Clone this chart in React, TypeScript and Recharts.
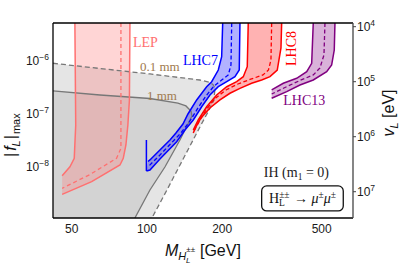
import React from "react";
import { ComposedChart, Area, Line, XAxis, YAxis, ReferenceDot, ReferenceLine } from "recharts";

const SANS = '"Liberation Sans", Arial, Helvetica, sans-serif';
const SERIF = '"Liberation Serif", "Times New Roman", Times, serif';

// ---- axes ----
const M_DOMAIN: [number, number] = [42.1, 667];
const F_DOMAIN: [number, number] = [1.09e-9, 5.21e-6];
const V_DOMAIN: [number, number] = [8566, 3.006e7];
const M_TICKS = [50, 100, 200, 500];
const F_TICKS = [1e-8, 1e-7, 1e-6];
const V_TICKS = [1e4, 1e5, 1e6, 1e7];

// ---- decay-length regions [M (GeV), |f_L|max] ----
const line01mm = [
  [42.1, 9.06e-7], [64.9, 7.21e-7], [102.8, 5.69e-7], [162.9, 4.38e-7], [178.6, 3.93e-7],
  [183.6, 3.6e-7], [187.1, 3.1e-7], [185.4, 1.84e-7], [175.4, 1.09e-7], [162.9, 5.69e-8],
  [120.2, 3.68e-9], [104.7, 1.09e-9],
];
const line1mm = [
  [42.1, 2.72e-7], [64.9, 2.28e-7], [102.8, 1.96e-7], [133.0, 1.61e-7], [143.2, 1.42e-7],
  [150.0, 1.14e-7], [151.4, 9.17e-8], [135.5, 3.23e-8], [118.0, 1.0e-8], [102.8, 3.68e-9],
  [89.5, 1.09e-9],
];

// ---- LEP ----
const lepLeft = [[51.5, 5.21e-6], [51.9, 6.2e-8], [51.2, 1.46e-8], [49.2, 1.01e-8], [45.8, 6.85e-9]];
const lepLower = [
  [45.8, 3.05e-9], [60.1, 5.28e-9], [78.0, 1.09e-8], [80.4, 1.46e-8], [82.4, 2.6e-8],
  [83.9, 6.2e-8], [85.1, 1.84e-7], [85.5, 5.21e-6],
];
const lepDash = [[78.7, 5.21e-6], [78.7, 6.2e-8], [78.7, 2.25e-8], [75.6, 1.46e-8], [59.2, 7.21e-9], [45.8, 3.96e-9]];

// ---- LHC7 ----
const lhc7Upper = [
  [200.9, 5.21e-6], [199.0, 1.21e-6], [192.9, 6.76e-7], [181.5, 4.07e-7], [173.3, 3.27e-7],
  [158.1, 1.84e-7], [145.9, 1.0e-7], [139.3, 6.48e-8], [130.6, 4.38e-8], [123.6, 3.23e-8],
  [112.7, 2.09e-8], [102.8, 1.36e-8], [100.9, 1.27e-8],
];
const lhc7Lower = [
  [235.5, 5.21e-6], [234.0, 6.76e-7], [224.9, 5.06e-7], [208.5, 4.07e-7], [192.9, 3.27e-7],
  [178.6, 2.28e-7], [165.5, 1.37e-7], [153.2, 7.71e-8], [141.9, 4.99e-8], [131.5, 3.0e-8],
  [112.7, 1.42e-8], [102.8, 8.78e-9], [99.5, 8.41e-9],
];
const lhc7Tip = [[99.5, 3.23e-8], [99.5, 8.41e-9]];
const lhc7Dash = [
  [218.3, 5.21e-6], [216.8, 8.41e-7], [211.5, 5.45e-7], [199.0, 4.38e-7], [185.4, 3.37e-7],
  [172.2, 2.19e-7], [160.0, 1.3e-7], [148.6, 7.38e-8], [136.8, 4.38e-8], [123.6, 2.66e-8],
  [112.7, 1.68e-8], [101.9, 1.05e-8],
];

// ---- LHC8 ----
const lhc8Upper = [
  [254.2, 5.21e-6], [251.9, 7.81e-7], [242.8, 5.06e-7], [228.5, 4.07e-7], [208.5, 3.27e-7],
  [190.0, 2.28e-7], [173.3, 1.37e-7], [160.4, 7.71e-8], [153.2, 4.99e-8],
];
const lhc8Lower = [
  [345.8, 5.21e-6], [343.6, 1.76e-6], [332.0, 6.76e-7], [310.5, 5.06e-7], [287.6, 4.38e-7],
  [262.3, 3.8e-7], [235.5, 3.05e-7], [214.8, 2.46e-7], [195.9, 1.84e-7], [178.6, 1.3e-7],
  [164.4, 8.41e-8], [157.0, 5.69e-8], [153.2, 4.38e-8],
];
const lhc8Dash = [
  [315.4, 5.21e-6], [313.3, 1.04e-6], [306.2, 6.76e-7], [291.1, 5.45e-7], [258.2, 4.48e-7],
  [231.2, 3.68e-7], [207.0, 2.84e-7], [187.1, 1.96e-7], [172.2, 1.19e-7], [161.4, 7.06e-8],
  [154.2, 4.78e-8],
];

// ---- LHC13 ----
const lhc13Upper = [
  [462.6, 5.21e-6], [455.9, 9.06e-7], [435.5, 6.28e-7], [397.0, 4.72e-7], [351.0, 3.8e-7], [315.4, 2.84e-7],
];
const lhc13Lower = [
  [564.9, 5.21e-6], [561.3, 1.61e-6], [548.0, 8.41e-7], [523.4, 6.28e-7], [462.6, 4.38e-7],
  [409.3, 3.52e-7], [362.2, 2.64e-7], [315.4, 1.98e-7],
];
const lhc13Dash = [
  [515.2, 5.21e-6], [510.5, 1.3e-6], [492.0, 7.38e-7], [462.6, 5.45e-7], [409.3, 4.29e-7],
  [356.4, 3.16e-7], [315.4, 2.38e-7],
];

// ---- annotation anchors [M, f] ----
const POS_LEP = [87.9, 1.84e-6];
const POS_LHC7 = [139.3, 8.41e-7];
const POS_LHC8 = [394.5, 1.72e-6];
const POS_LHC13 = [351.0, 1.48e-7];
const POS_01MM = [93.8, 6.48e-7];
const POS_1MM = [100, 1.84e-7];
const POS_IH = [534.6, 6.48e-9];
const POS_BOX = [418.8, 2.55e-9];

// ---- helpers ----
const toPts = (a: number[][]) => a.map(([m, f]) => ({ m, f }));
const band = (upper: number[][], lower: number[][]) => toPts([...upper, ...[...lower].reverse(), upper[0]]);
const region = (a: number[][]) =>
  toPts([[a[0][0], F_DOMAIN[0]], ...a, [a[a.length - 1][0], F_DOMAIN[0]]]);

const expStr = (v: number) => {
  const e = Math.round(Math.log10(v));
  return e < 0 ? "\u2212" + -e : String(e);
};

const MTick = (p: any) => (
  <text x={p.x} y={p.y} dy={8.6} textAnchor="middle" fontSize={12} fontFamily={SANS} fill="#1a1a1a">
    {p.payload.value}
  </text>
);
const FTick = (p: any) => (
  <text x={p.x} y={p.y} dy={4.5} textAnchor="end" fontSize={12} fontFamily={SANS} fill="#1a1a1a">
    10<tspan dy={-5} fontSize={8.5}>{expStr(p.payload.value)}</tspan>
  </text>
);
const VTick = (p: any) => (
  <text x={p.x} y={p.y} dy={4.5} textAnchor="start" fontSize={12} fontFamily={SANS} fill="#1a1a1a">
    10<tspan dy={-5} fontSize={8.5}>{expStr(p.payload.value)}</tspan>
  </text>
);

const MLabel = (p: any) => {
  const vb = p.viewBox;
  const x = vb.x + 112;
  const y = vb.y + 38;
  return (
    <text x={x} y={y} fontSize={16} fontFamily={SANS} fill="#111">
      <tspan fontStyle="italic">M</tspan>
      <tspan fontStyle="italic" fontSize={11} dy={4}>H</tspan>
      <tspan fontSize={8} dy={-8}>±±</tspan>
      <tspan fontStyle="italic" fontSize={8} dx={-9} dy={11}>L</tspan>
      <tspan dx={5} dy={-7}> [GeV]</tspan>
    </text>
  );
};
const FLabel = (p: any) => {
  const vb = p.viewBox;
  const x = vb.x + 16;
  const y = vb.y + 134;
  return (
    <text transform={`rotate(-90 ${x} ${y})`} x={x} y={y} fontSize={16} fontFamily={SANS} fill="#111">
      |<tspan fontStyle="italic" dx={2}>f</tspan>
      <tspan fontStyle="italic" fontSize={11} dy={4}>L</tspan>
      <tspan dy={-4} dx={1}>|</tspan>
      <tspan fontSize={11} dy={4} dx={1}>max</tspan>
    </text>
  );
};
const VLabel = (p: any) => {
  const vb = p.viewBox;
  const x = vb.x + 41;
  const y = vb.y + 90;
  return (
    <text transform={`rotate(-90 ${x} ${y})`} x={x} y={y} textAnchor="middle" fontSize={16} fontFamily={SANS} fill="#111">
      <tspan fontStyle="italic">v</tspan>
      <tspan fontStyle="italic" fontSize={11} dy={3.5}>L</tspan>
      <tspan dy={-3.5}> [eV]</tspan>
    </text>
  );
};

const txt = (s: string, color: string, size = 14, anchor = "start", rotate = false) => (p: any) => (
  <text
    x={p.cx}
    y={p.cy}
    textAnchor={anchor as any}
    fontSize={size}
    fontFamily={SERIF}
    fill={color}
    transform={rotate ? `rotate(-90 ${p.cx} ${p.cy})` : undefined}
  >
    {s}
  </text>
);

const IHShape = (p: any) => (
  <text x={p.cx} y={p.cy} textAnchor="end" fontSize={14} fontFamily={SERIF} fill="#222">
    IH (m<tspan fontSize={9.5} dy={3}>1</tspan><tspan dy={-3}> = 0)</tspan>
  </text>
);
const BoxShape = (p: any) => (
  <g>
    <rect x={p.cx - 40.8} y={p.cy - 12.5} width={81.6} height={25} rx={5} ry={5} fill="#fff" stroke="#111" strokeWidth={1.3} />
    <text x={p.cx} y={p.cy + 4.5} textAnchor="middle" fontSize={14} fontFamily={SERIF} fill="#111">
      H<tspan fontSize={9.5} dy={-5}>±±</tspan>
      <tspan fontSize={9.5} dx={-10.5} dy={8}>L</tspan>
      <tspan dx={5.5} dy={-3}> → </tspan>
      <tspan fontStyle="italic">μ</tspan>
      <tspan fontSize={9.5} dy={-5}>±</tspan>
      <tspan fontStyle="italic" dy={5}>μ</tspan>
      <tspan fontSize={9.5} dy={-5}>±</tspan>
    </text>
  </g>
);

const fillArea = (key: string, data: any[], color: string, opacity: number) => (
  <Area
    key={key}
    data={data}
    dataKey="f"
    yAxisId="f"
    type="linear"
    stroke="none"
    fill={color}
    fillOpacity={opacity}
    dot={false}
    activeDot={false}
    isAnimationActive={false}
  />
);
const edge = (key: string, data: number[][], color: string, width: number, dash?: string) => (
  <Line
    key={key}
    data={toPts(data)}
    dataKey="f"
    yAxisId="f"
    type="linear"
    stroke={color}
    strokeWidth={width}
    strokeDasharray={dash}
    dot={false}
    activeDot={false}
    isAnimationActive={false}
  />
);

const LEP_C = "#ff7070";
const L7_C = "#0000ff";
const L8_C = "#ff0000";
const L13_C = "#800080";
const MM_C = "#a07a4e";

export default function App() {
  return (
    <div style={{ position: "absolute", left: 0, top: 0, width: 399, height: 265 }}>
      <ComposedChart width={399} height={265} margin={{ top: 23, right: 1, bottom: 17, left: 0 }}>
        <XAxis
          dataKey="m"
          type="number"
          scale="log"
          domain={M_DOMAIN}
          allowDataOverflow
          ticks={M_TICKS}
          tick={<MTick />}
          tickLine={false}
          tickSize={0}
          tickMargin={6}
          height={30}
          axisLine={{ stroke: "#000", strokeWidth: 1.3 }}
          label={MLabel}
        />
        <YAxis
          yAxisId="f"
          type="number"
          scale="log"
          domain={F_DOMAIN}
          allowDataOverflow
          ticks={F_TICKS}
          tick={<FTick />}
          tickLine={false}
          tickSize={0}
          tickMargin={4}
          width={53}
          axisLine={{ stroke: "#000", strokeWidth: 1.3 }}
          label={FLabel}
        />
        <YAxis
          yAxisId="v"
          orientation="right"
          type="number"
          scale="log"
          domain={V_DOMAIN}
          reversed
          allowDataOverflow
          ticks={V_TICKS}
          tick={<VTick />}
          tickLine={{ stroke: "#444" }}
          tickSize={3}
          tickMargin={1}
          width={45}
          axisLine={{ stroke: "#444", strokeWidth: 1.3 }}
          label={VLabel}
        />

        {fillArea("g01", region(line01mm), "#e5e5e5", 1)}
        {fillArea("g1", region(line1mm), "#d3d3d3", 1)}
        {edge("l01", line01mm, "#777", 1.3, "5 3")}
        {edge("l1", line1mm, "#777", 1.3)}

        {fillArea("lepF", toPts([...lepLeft, ...lepLower, lepLeft[0]]), "#ff8080", 0.33)}
        {edge("lepA", lepLeft, LEP_C, 1.5)}
        {edge("lepB", lepLower, LEP_C, 1.5)}
        {edge("lepD", lepDash, LEP_C, 1.3, "4 3")}

        {fillArea("l8F", band(lhc8Upper, lhc8Lower), "#ff0000", 0.3)}
        {edge("l8A", lhc8Upper, L8_C, 1.5)}
        {edge("l8B", lhc8Lower, L8_C, 1.5)}
        {edge("l8D", lhc8Dash, L8_C, 1.3, "4 2.5")}

        {fillArea("l13F", band(lhc13Upper, lhc13Lower), "#800080", 0.3)}
        {edge("l13A", lhc13Upper, L13_C, 1.5)}
        {edge("l13B", lhc13Lower, L13_C, 1.5)}
        {edge("l13D", lhc13Dash, L13_C, 1.3, "4 2.5")}

        {fillArea("l7F", band(lhc7Upper, lhc7Lower), "#0000ff", 0.3)}
        {edge("l7A", lhc7Upper, L7_C, 1.5)}
        {edge("l7B", lhc7Lower, L7_C, 1.5)}
        {edge("l7T", lhc7Tip, L7_C, 1.5)}
        {edge("l7D", lhc7Dash, L7_C, 1.3, "4 2.5")}

        <ReferenceLine yAxisId="f" y={F_DOMAIN[1]} stroke="#000" strokeWidth={1.3} />

        <ReferenceDot yAxisId="f" x={POS_LEP[0]} y={POS_LEP[1]} r={0} shape={txt("LEP", LEP_C)} />
        <ReferenceDot yAxisId="f" x={POS_LHC7[0]} y={POS_LHC7[1]} r={0} shape={txt("LHC7", L7_C)} />
        <ReferenceDot yAxisId="f" x={POS_LHC8[0]} y={POS_LHC8[1]} r={0} shape={txt("LHC8", L8_C, 14, "middle", true)} />
        <ReferenceDot yAxisId="f" x={POS_LHC13[0]} y={POS_LHC13[1]} r={0} shape={txt("LHC13", L13_C)} />
        <ReferenceDot yAxisId="f" x={POS_01MM[0]} y={POS_01MM[1]} r={0} shape={txt("0.1 mm", MM_C, 13)} />
        <ReferenceDot yAxisId="f" x={POS_1MM[0]} y={POS_1MM[1]} r={0} shape={txt("1 mm", MM_C, 13)} />
        <ReferenceDot yAxisId="f" x={POS_IH[0]} y={POS_IH[1]} r={0} shape={IHShape} />
        <ReferenceDot yAxisId="f" x={POS_BOX[0]} y={POS_BOX[1]} r={0} shape={BoxShape} />
      </ComposedChart>
    </div>
  );
}
